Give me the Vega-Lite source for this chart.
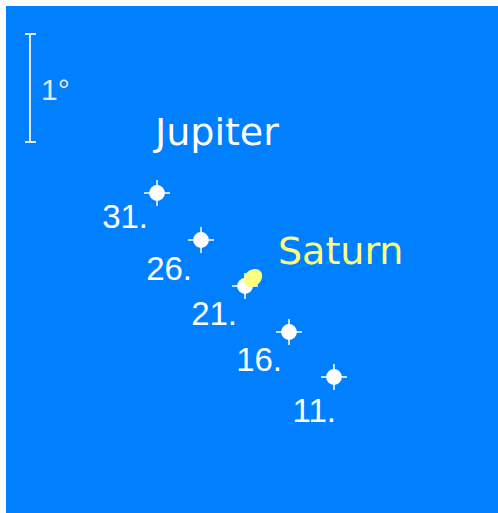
{
  "$schema": "https://vega.github.io/schema/vega-lite/v6.json",
  "width": 498,
  "height": 513,
  "autosize": {"type": "fit", "contains": "padding"},
  "padding": {"left": 6, "top": 6, "right": 0, "bottom": 0},
  "background": "#ffffff",
  "config": {"view": {"fill": "#0080ff", "stroke": null}},
  "datasets": {
    "jupiter": [
      {"day": "31.", "x": 157, "y": 193, "lx": 148, "ly": 228},
      {"day": "26.", "x": 201, "y": 240, "lx": 192, "ly": 280},
      {"day": "21.", "x": 245, "y": 286, "lx": 237, "ly": 325},
      {"day": "16.", "x": 289, "y": 332, "lx": 282, "ly": 371},
      {"day": "11.", "x": 334, "y": 377, "lx": 336, "ly": 422}
    ],
    "saturn": [{"x": 253, "y": 278}],
    "bar": [
      {"x": 30, "y": 34, "x2": 30, "y2": 142},
      {"x": 25, "y": 34, "x2": 36, "y2": 34},
      {"x": 25, "y": 142, "x2": 36, "y2": 142}
    ],
    "names": [
      {"name": "Jupiter", "x": 155, "y": 145, "c": "J"},
      {"name": "Saturn", "x": 278, "y": 264, "c": "S"}
    ],
    "scale": [{"t": "1°", "x": 41, "y": 100}]
  },
  "layer": [
    {
      "data": {"name": "bar"},
      "mark": {"type": "rule", "color": "#e6e6e6", "strokeWidth": 2},
      "encoding": {
        "x": {"field": "x", "type": "quantitative", "scale": {"domain": [6, 498], "nice": false, "zero": false}, "axis": null},
        "y": {"field": "y", "type": "quantitative", "scale": {"domain": [6, 513], "reverse": true, "nice": false, "zero": false}, "axis": null},
        "x2": {"field": "x2"},
        "y2": {"field": "y2"}
      }
    },
    {
      "data": {"name": "scale"},
      "mark": {"type": "text", "align": "left", "baseline": "alphabetic", "font": "Liberation Sans", "fontSize": 30, "color": "#e6e6e6"},
      "encoding": {
        "x": {"field": "x", "type": "quantitative"},
        "y": {"field": "y", "type": "quantitative"},
        "text": {"field": "t"}
      }
    },
    {
      "data": {"name": "names"},
      "mark": {"type": "text", "align": "left", "baseline": "alphabetic", "font": "DejaVu Sans", "fontSize": 38, "stroke": null},
      "encoding": {
        "x": {"field": "x", "type": "quantitative"},
        "y": {"field": "y", "type": "quantitative"},
        "text": {"field": "name"},
        "color": {"field": "c", "type": "nominal", "scale": {"domain": ["J", "S"], "range": ["#ffffff", "#ffff80"]}, "legend": null}
      }
    },
    {
      "data": {"name": "jupiter"},
      "mark": {"type": "point", "shape": "M-1,0L1,0M0,-1L0,1", "filled": false, "stroke": "#ffffff", "strokeWidth": 1.5, "size": 676, "opacity": 1},
      "encoding": {
        "x": {"field": "x", "type": "quantitative"},
        "y": {"field": "y", "type": "quantitative"}
      }
    },
    {
      "data": {"name": "jupiter"},
      "mark": {"type": "circle", "color": "#ffffff", "size": 250, "opacity": 1},
      "encoding": {
        "x": {"field": "x", "type": "quantitative"},
        "y": {"field": "y", "type": "quantitative"}
      }
    },
    {
      "data": {"name": "saturn"},
      "mark": {"type": "point", "shape": "M-1,0A1,0.8 0 1,0 1,0A1,0.8 0 1,0 -1,0Z", "filled": true, "color": "#ffff80", "size": 400, "opacity": 1, "angle": -40},
      "encoding": {
        "x": {"field": "x", "type": "quantitative"},
        "y": {"field": "y", "type": "quantitative"}
      }
    },
    {
      "data": {"name": "jupiter"},
      "mark": {"type": "text", "align": "right", "baseline": "alphabetic", "font": "Liberation Sans", "fontSize": 33, "color": "#ffffff"},
      "encoding": {
        "x": {"field": "lx", "type": "quantitative"},
        "y": {"field": "ly", "type": "quantitative"},
        "text": {"field": "day"}
      }
    }
  ]
}
